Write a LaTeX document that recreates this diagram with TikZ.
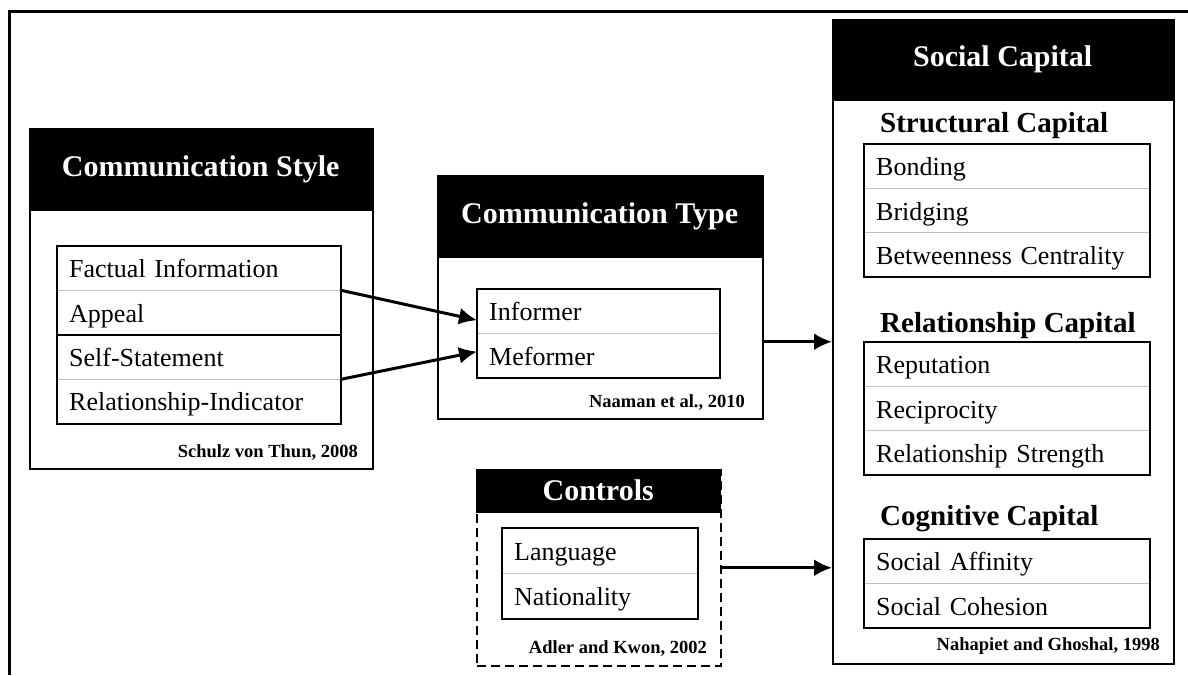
\documentclass[tikz,border=0pt]{standalone}
\usepackage{fontspec}
\setmainfont{Liberation Serif}
\usetikzlibrary{arrows.meta}

\newcommand{\rowstrut}{\rule[-7pt]{0pt}{33pt}}

\begin{document}
\begin{tikzpicture}[x=1pt,y=-1pt,
  panel/.style={draw=black,line width=1.5pt,fill=white,anchor=north west,inner sep=0pt},
  headbar/.style={draw=black,fill=black,text=white,anchor=north west,inner sep=0pt,
    font=\fontsize{30}{34}\selectfont\bfseries},
  item/.style={anchor=north west,inner xsep=12pt,inner ysep=0pt,minimum height=44pt,
    align=left,execute at begin node=\rowstrut,font=\fontsize{26}{30}\selectfont},
  sub/.style={anchor=base west,inner sep=0pt,font=\fontsize{29}{32}\selectfont\bfseries},
  cite/.style={anchor=base east,inner sep=0pt,font=\fontsize{18.5}{20}\selectfont\bfseries},
  sep/.style={draw=black!25,line width=1pt},
  list/.style={draw=black,line width=2pt},
  arr/.style={line width=3pt,-{Latex[length=18pt,width=17pt]}}]
  \useasboundingbox (0,0) rectangle (1188,675);
  \draw[line width=3pt] (1188,11) -- (9,11) -- (9,675);

  % communication style
  \node[panel,minimum width=343pt,minimum height=340pt] (cs) at (29,128) {};
  \node[headbar,minimum width=343pt,minimum height=82pt] (cshead) at (cs.north west) {Communication Style};
  \node[item,text width=260pt] (fact) at (57,246) {Factual Information};
  \node[item,text width=260pt] (appeal) at (fact.south west) {Appeal};
  \node[item,text width=260pt] (self) at (appeal.south west) {Self-Statement};
  \node[item,text width=260pt] (relind) at (self.south west) {Relationship-Indicator};
  \draw[sep] (fact.south west) -- (fact.south east);
  \draw[sep] (self.south west) -- (self.south east);
  \draw[list] (appeal.south west) -- (appeal.south east);
  \draw[list] (fact.north west) rectangle (relind.south east);
  \node[cite] (cscite) at (358,457) {Schulz von Thun, 2008};

  % communication type
  \node[panel,minimum width=325pt,minimum height=243pt] (ct) at (437,175) {};
  \node[headbar,minimum width=325pt,minimum height=82pt] (cthead) at (ct.north west) {Communication Type};
  \node[item,text width=219pt] (inform) at (477,289) {Informer};
  \node[item,text width=219pt] (meform) at (inform.south west) {Meformer};
  \draw[sep] (inform.south west) -- (inform.south east);
  \draw[list] (inform.north west) rectangle (meform.south east);
  \node[cite] (ctcite) at (745,407) {Naaman et al., 2010};

  % controls
  \node[panel,dash pattern=on 9pt off 5pt,minimum width=244pt,minimum height=196pt] (ctl) at (476,469) {};
  \node[headbar,minimum width=244pt,minimum height=43pt] (ctlhead) at (ctl.north west) {Controls};
  \node[item,text width=172pt,minimum height=45pt] (lang) at (502,528) {Language};
  \node[item,text width=172pt,minimum height=45pt] (nation) at (lang.south west) {Nationality};
  \draw[sep] (lang.south west) -- (lang.south east);
  \draw[list] (lang.north west) rectangle (nation.south east);
  \node[cite] (ctlcite) at (707,653) {Adler and Kwon, 2002};

  % social capital
  \node[panel,minimum width=341pt,minimum height=644pt] (sc) at (832,19) {};
  \node[headbar,minimum width=341pt,minimum height=81pt] (schead) at (sc.north west) {Social Capital};
  \node[sub] (structural) at (880,132) {Structural Capital};
  \node[item,text width=262pt] (bond) at (864,144) {Bonding};
  \node[item,text width=262pt] (bridge) at (bond.south west) {Bridging};
  \node[item,text width=262pt] (between) at (bridge.south west) {Betweenness Centrality};
  \draw[sep] (bond.south west) -- (bond.south east);
  \draw[sep] (bridge.south west) -- (bridge.south east);
  \draw[list] (bond.north west) rectangle (between.south east);
  \node[sub] (relational) at (880,332) {Relationship Capital};
  \node[item,text width=262pt] (repu) at (864,342) {Reputation};
  \node[item,text width=262pt] (recip) at (repu.south west) {Reciprocity};
  \node[item,text width=262pt] (strength) at (recip.south west) {Relationship Strength};
  \draw[sep] (repu.south west) -- (repu.south east);
  \draw[sep] (recip.south west) -- (recip.south east);
  \draw[list] (repu.north west) rectangle (strength.south east);
  \node[sub] (cognitive) at (880,525) {Cognitive Capital};
  \node[item,text width=262pt] (affin) at (864,539) {Social Affinity};
  \node[item,text width=262pt] (cohes) at (affin.south west) {Social Cohesion};
  \draw[sep] (affin.south west) -- (affin.south east);
  \draw[list] (affin.north west) rectangle (cohes.south east);
  \node[cite] (sccite) at (1160,650) {Nahapiet and Ghoshal, 1998};

  % connectors
  \draw[arr] (fact.south east) -- ([yshift=-9pt]inform.west);
  \draw[arr] (self.south east) -- ([yshift=4pt]meform.west);
  \draw[arr] (ct.east |- sc.west) -- (sc.west);
  \draw[arr] (ctl.east) -- (ctl.east -| sc.west);
\end{tikzpicture}
\end{document}
